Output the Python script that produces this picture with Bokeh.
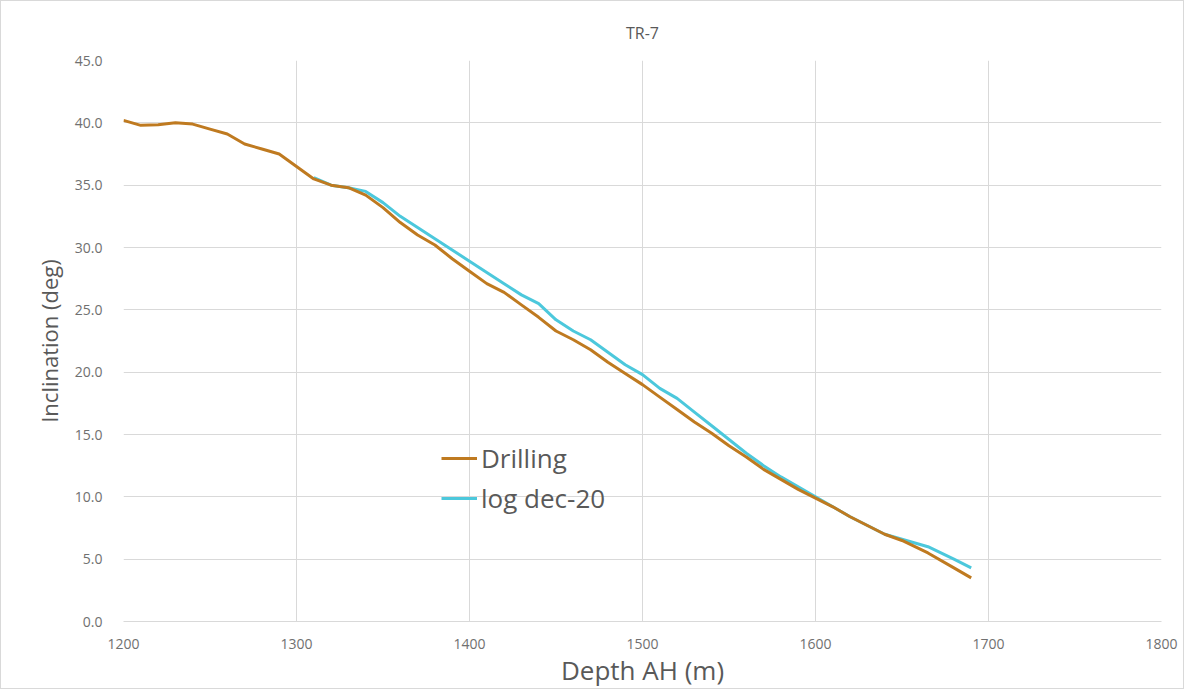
from bokeh.plotting import figure
from bokeh.models import Range1d, FixedTicker, PrintfTickFormatter, Legend, LegendItem
from bokeh.embed import file_html
from bokeh.resources import INLINE

# Data
drill_depth = [1200, 1210, 1220, 1230, 1240, 1250, 1260, 1270, 1280, 1290, 1300, 1310, 1320, 1330, 1340,
               1350, 1360, 1370, 1380, 1390, 1400, 1410, 1420, 1430, 1440, 1450, 1460, 1470, 1480, 1490,
               1500, 1510, 1520, 1530, 1540, 1550, 1560, 1570, 1580, 1590, 1600, 1610, 1620, 1630, 1640,
               1650, 1665, 1680, 1690]
drill_incl = [40.2, 39.8, 39.85, 40.0, 39.9, 39.5, 39.1, 38.3, 37.9, 37.5, 36.5, 35.5, 35.0, 34.8, 34.2,
              33.2, 32.0, 31.0, 30.2, 29.1, 28.1, 27.1, 26.4, 25.4, 24.4, 23.3, 22.6, 21.8, 20.8, 19.9,
              19.0, 18.0, 17.0, 16.0, 15.1, 14.1, 13.2, 12.2, 11.4, 10.6, 9.9, 9.2, 8.4, 7.7, 7.0,
              6.5, 5.5, 4.3, 3.5]

log_depth = [1310, 1320, 1330, 1340, 1350, 1360, 1370, 1380, 1390, 1400, 1410, 1420, 1430, 1440, 1450,
             1460, 1470, 1480, 1490, 1500, 1510, 1520, 1530, 1540, 1550, 1560, 1570, 1580, 1590, 1600,
             1610, 1620, 1630, 1640, 1650, 1665, 1680, 1690]
log_incl = [35.6, 35.0, 34.8, 34.5, 33.6, 32.5, 31.6, 30.7, 29.8, 28.9, 28.0, 27.1, 26.2, 25.5, 24.2,
            23.3, 22.6, 21.6, 20.6, 19.8, 18.7, 17.9, 16.8, 15.7, 14.6, 13.5, 12.5, 11.6, 10.8, 10.0,
            9.2, 8.4, 7.7, 7.0, 6.6, 6.0, 5.0, 4.3]

x_ticks = [1200, 1300, 1400, 1500, 1600, 1700, 1800]
y_ticks = [0, 5, 10, 15, 20, 25, 30, 35, 40, 45]

FONT = "Open Sans"
TXT = "#595959"

p = figure(width=1184, height=689, output_backend="svg", toolbar_location=None,
           x_range=Range1d(1200, 1800), y_range=Range1d(0, 45),
           min_border_left=122, min_border_right=24, min_border_top=59, min_border_bottom=67,
           title="TR-7")
p.styles = {"border": "1px solid #d9d9d9"}
p.title.align = "center"
p.title.text_font = FONT
p.title.text_font_size = "16px"
p.title.text_font_style = "normal"
p.title.text_color = TXT
p.title.offset = 0
p.title.standoff = 34

p.outline_line_color = None
p.background_fill_color = "white"
p.border_fill_color = "white"

p.xaxis.ticker = FixedTicker(ticks=x_ticks)
p.yaxis.ticker = FixedTicker(ticks=y_ticks)
p.yaxis.formatter = PrintfTickFormatter(format="%.1f")
for ax in (p.xaxis[0], p.yaxis[0]):
    ax.major_tick_line_color = None
    ax.minor_tick_line_color = None
    ax.major_label_text_font = FONT
    ax.major_label_text_font_size = "14px"
    ax.major_label_text_color = "#707070"
    ax.axis_label_text_font = FONT
    ax.axis_label_text_font_style = "normal"
    ax.axis_label_text_color = TXT
p.xaxis.axis_label_text_font_size = "26px"
p.yaxis.axis_label_text_font_size = "22px"
p.xaxis.axis_line_color = "#d9d9d9"
p.yaxis.axis_line_color = None
p.xaxis.axis_label = "Depth AH (m)"
p.yaxis.axis_label = "Inclination (deg)"
p.xaxis.major_label_standoff = 11
p.yaxis.major_label_standoff = 15
p.xaxis.axis_label_standoff = 0
p.yaxis.axis_label_standoff = 8

p.xgrid.grid_line_color = "#d9d9d9"
p.ygrid.grid_line_color = "#d9d9d9"

r1 = p.line(drill_depth, drill_incl, line_color="#BF7A20", line_width=3)
r2 = p.line(log_depth, log_incl, line_color="#4CC8DC", line_width=3)
p.renderers = [r2, r1]

legend = Legend(items=[LegendItem(label="Drilling", renderers=[r1]),
                       LegendItem(label="log dec-20", renderers=[r2])],
                location=(318, 105), orientation="vertical")
legend.background_fill_alpha = 0
legend.border_line_color = None
legend.label_text_font = FONT
legend.label_text_font_size = "26px"
legend.label_text_color = TXT
legend.glyph_width = 36
legend.label_standoff = 4
legend.padding = 0
legend.margin = 0
legend.spacing = 4
legend.label_height = 28
legend.glyph_height = 28
p.add_layout(legend, "center")

open("out.html", "w").write(file_html(p, INLINE))
